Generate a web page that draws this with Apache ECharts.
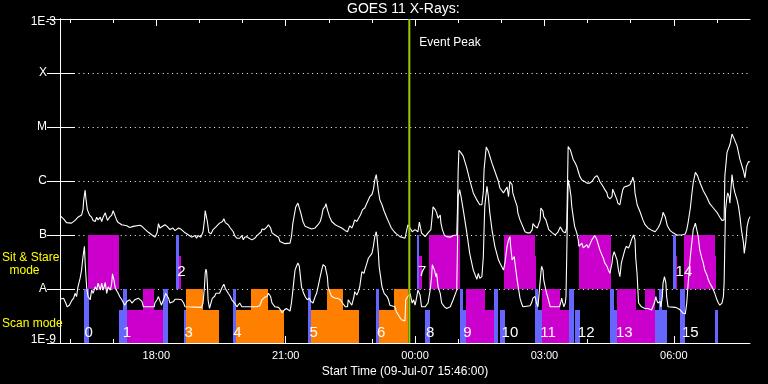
<!DOCTYPE html>
<html><head><meta charset="utf-8">
<script src="https://cdn.jsdelivr.net/npm/echarts@6/dist/echarts.min.js"></script>
<style>html,body{margin:0;padding:0;background:#000;}#c{width:768px;height:384px;}</style>
</head><body><div id="c"></div>
<script>
// ---- time axis: minutes after 09-Jul-07 15:46:00 ----
const START_CLOCK_MIN = 15 * 60 + 46;
const SPAN_MIN = 960;
const hourTickTimes = [14,74,134,194,254,314,374,434,494,554,614,674,734,794,854,914];
const majorTickTimes = [134,314,494,674,854];           // 18:00 21:00 00:00 03:00 06:00
const yTickLabels = ['1E-9','A','B','C','M','X','1E-3']; // decades 1e-9 .. 1e-3
const titleText = 'GOES 11 X-Rays:';
const xAxisTitle = 'Start Time (09-Jul-07 15:46:00)';
const eventTime = 486;
const eventLabel = 'Event Peak';

// ---- GOES curves: [minutes after start, log10 flux (W/m^2)] ----
const longCurve = [[0,-6.64],[5,-6.70],[9,-6.77],[16,-6.78],[21,-6.73],[25,-6.67],[30,-6.63],[32,-6.53],[33,-6.35],[35,-6.17],[36,-6.32],[38,-6.53],[41,-6.63],[44,-6.67],[46,-6.73],[49,-6.75],[51,-6.67],[53,-6.72],[56,-6.67],[58,-6.75],[60,-6.67],[63,-6.59],[64,-6.56],[66,-6.73],[69,-6.67],[72,-6.63],[74,-6.55],[77,-6.66],[79,-6.73],[81,-6.77],[86,-6.81],[93,-6.83],[97,-6.86],[102,-6.84],[111,-6.82],[114,-6.84],[118,-6.89],[123,-6.95],[128,-7.00],[132,-7.04],[135,-6.96],[137,-6.79],[139,-6.87],[141,-6.89],[146,-6.81],[149,-6.84],[153,-6.90],[157,-6.87],[160,-6.92],[165,-6.87],[169,-6.90],[174,-6.96],[179,-7.00],[183,-7.04],[188,-7.01],[190,-7.06],[192,-7.01],[196,-7.04],[199,-6.94],[201,-6.72],[202,-6.55],[204,-6.56],[205,-6.75],[207,-6.95],[210,-6.98],[213,-6.90],[217,-6.85],[219,-6.84],[222,-6.78],[224,-6.79],[226,-6.75],[228,-6.70],[230,-6.77],[232,-6.75],[234,-6.81],[237,-6.87],[239,-6.90],[241,-6.94],[243,-7.01],[246,-7.06],[248,-7.09],[250,-7.06],[253,-7.01],[255,-7.09],[257,-7.04],[260,-7.03],[263,-7.06],[267,-7.09],[271,-7.06],[274,-7.01],[276,-6.98],[280,-6.94],[281,-6.89],[284,-6.90],[288,-6.85],[290,-6.81],[291,-6.79],[293,-6.87],[295,-6.96],[299,-7.00],[304,-7.04],[306,-7.12],[308,-7.15],[313,-7.16],[320,-7.15],[322,-7.03],[324,-6.78],[326,-6.63],[328,-6.48],[331,-6.41],[333,-6.44],[335,-6.59],[338,-6.75],[341,-6.84],[345,-6.86],[350,-6.89],[355,-6.87],[359,-6.81],[362,-6.75],[364,-6.66],[366,-6.52],[369,-6.47],[370,-6.42],[372,-6.53],[375,-6.66],[378,-6.75],[383,-6.81],[387,-6.84],[392,-6.87],[397,-6.92],[400,-6.94],[403,-6.83],[406,-6.87],[408,-6.81],[410,-6.72],[413,-6.75],[415,-6.70],[418,-6.63],[421,-6.53],[424,-6.50],[428,-6.38],[431,-6.29],[434,-6.25],[436,-6.16],[438,-5.98],[440,-5.88],[441,-5.98],[443,-6.19],[445,-6.35],[448,-6.44],[451,-6.56],[455,-6.69],[458,-6.78],[461,-6.87],[465,-6.94],[468,-6.98],[473,-7.03],[480,-7.06],[484,-6.81],[487,-6.87],[490,-6.94],[494,-6.90],[498,-6.94],[500,-6.76],[503,-6.96],[508,-7.03],[512,-6.96],[516,-6.90],[518,-6.63],[519,-6.48],[522,-6.53],[524,-6.59],[526,-6.69],[529,-6.63],[530,-6.78],[532,-6.90],[535,-7.01],[538,-7.03],[543,-7.04],[547,-7.01],[552,-7.00],[553,-6.53],[554,-5.79],[555,-5.43],[558,-5.48],[561,-5.54],[566,-5.76],[570,-5.98],[575,-6.22],[580,-6.35],[584,-6.44],[587,-6.44],[589,-6.19],[590,-5.79],[593,-5.37],[596,-5.45],[601,-5.67],[605,-5.82],[610,-6.01],[612,-6.13],[617,-6.22],[622,-6.11],[624,-6.29],[626,-6.01],[629,-6.07],[630,-6.22],[633,-6.35],[636,-6.47],[637,-6.59],[640,-6.72],[647,-6.94],[650,-6.96],[654,-6.96],[657,-6.90],[658,-6.79],[661,-6.84],[664,-6.87],[665,-6.84],[668,-6.72],[669,-6.50],[672,-6.56],[673,-6.66],[676,-6.72],[678,-6.81],[680,-6.90],[685,-6.96],[689,-7.00],[693,-6.94],[696,-6.85],[698,-6.87],[700,-6.94],[703,-6.96],[705,-6.87],[707,-5.36],[708,-5.35],[710,-5.42],[712,-5.51],[714,-5.60],[717,-5.67],[719,-5.73],[721,-5.82],[723,-5.91],[726,-5.98],[728,-6.01],[730,-6.01],[733,-6.04],[735,-6.05],[737,-6.04],[740,-6.01],[742,-5.98],[744,-5.93],[747,-5.90],[749,-5.94],[751,-6.01],[754,-6.07],[756,-6.11],[758,-6.16],[761,-6.22],[762,-6.29],[765,-6.33],[768,-6.29],[769,-6.15],[771,-6.16],[772,-6.25],[775,-6.35],[776,-6.41],[779,-6.44],[781,-6.29],[783,-6.16],[785,-6.11],[787,-6.13],[790,-6.09],[793,-6.07],[796,-5.98],[797,-5.93],[799,-6.04],[800,-6.22],[803,-6.44],[807,-6.57],[811,-6.72],[814,-6.81],[818,-6.87],[823,-6.91],[828,-6.94],[832,-6.87],[835,-6.79],[838,-6.66],[839,-6.58],[842,-6.66],[845,-6.83],[849,-6.92],[853,-6.96],[858,-7.00],[865,-7.00],[870,-6.98],[872,-6.90],[874,-6.76],[877,-6.50],[879,-6.25],[881,-6.03],[884,-5.84],[887,-5.90],[890,-6.02],[895,-6.18],[900,-6.30],[904,-6.42],[909,-6.50],[914,-6.58],[918,-6.67],[921,-6.73],[924,-6.72],[925,-5.91],[928,-5.47],[930,-5.44],[932,-5.33],[935,-5.13],[938,-5.22],[942,-5.35],[946,-5.60],[951,-5.82],[953,-5.94],[955,-5.73],[958,-5.64],[960,-5.65]];

const shortCurve = [[0,-8.19],[2,-8.22],[5,-8.17],[8,-8.26],[10,-8.33],[13,-8.30],[16,-8.22],[19,-8.17],[21,-8.08],[23,-8.14],[25,-7.96],[28,-7.80],[30,-7.65],[32,-7.40],[34,-7.21],[35,-7.52],[37,-7.96],[39,-8.14],[42,-8.20],[44,-8.02],[46,-8.08],[49,-7.96],[51,-8.02],[53,-7.89],[56,-8.02],[58,-7.89],[60,-8.02],[63,-7.88],[65,-8.08],[67,-7.96],[70,-8.02],[72,-7.89],[73,-7.72],[75,-7.83],[77,-7.99],[79,-8.02],[81,-8.08],[83,-8.14],[86,-8.20],[88,-8.23],[90,-8.30],[93,-8.23],[95,-8.26],[97,-8.20],[100,-8.26],[104,-8.20],[109,-8.17],[114,-8.23],[116,-8.33],[131,-8.33],[132,-8.26],[135,-8.20],[137,-8.14],[139,-8.17],[141,-8.30],[144,-8.20],[147,-8.08],[151,-8.17],[153,-8.26],[158,-8.23],[160,-8.19],[165,-8.19],[169,-8.20],[172,-8.26],[174,-8.33],[197,-8.34],[199,-8.26],[201,-7.96],[202,-7.71],[203,-7.63],[204,-7.68],[205,-7.89],[206,-8.20],[208,-8.36],[210,-8.26],[212,-8.17],[215,-8.14],[217,-8.08],[219,-8.05],[222,-8.08],[224,-8.02],[226,-7.96],[228,-7.91],[230,-7.99],[232,-7.96],[234,-8.08],[237,-8.14],[239,-8.20],[243,-8.26],[246,-8.33],[248,-8.30],[250,-8.26],[253,-8.33],[274,-8.33],[278,-8.31],[281,-8.20],[283,-8.17],[285,-8.15],[288,-8.14],[290,-8.08],[291,-8.05],[293,-8.14],[295,-8.26],[299,-8.33],[304,-8.34],[307,-8.39],[309,-8.44],[312,-8.39],[315,-8.36],[320,-8.41],[322,-8.26],[324,-8.02],[326,-7.77],[327,-7.65],[329,-7.58],[331,-7.52],[333,-7.58],[334,-7.71],[336,-7.96],[339,-8.08],[341,-8.14],[344,-8.20],[347,-8.17],[349,-8.23],[351,-8.20],[352,-8.26],[355,-8.14],[357,-8.08],[359,-7.96],[362,-7.77],[364,-7.65],[366,-7.55],[369,-7.58],[370,-7.65],[372,-7.77],[373,-7.96],[376,-8.08],[378,-8.14],[383,-8.17],[386,-8.17],[390,-8.20],[393,-8.26],[397,-8.33],[400,-8.33],[401,-8.20],[403,-8.17],[406,-8.30],[407,-8.33],[409,-8.14],[410,-8.05],[413,-8.11],[415,-8.05],[417,-7.96],[419,-7.77],[420,-7.68],[423,-7.71],[424,-7.65],[427,-7.52],[429,-7.43],[431,-7.40],[434,-7.34],[436,-7.21],[438,-7.03],[440,-6.94],[441,-7.03],[443,-7.34],[444,-7.58],[446,-7.77],[448,-7.96],[451,-8.08],[455,-8.14],[457,-8.20],[459,-8.30],[461,-8.33],[466,-8.33],[468,-8.42],[472,-8.51],[475,-8.57],[480,-8.59],[481,-8.20],[487,-8.08],[490,-8.26],[492,-8.20],[494,-8.30],[496,-8.17],[498,-8.02],[501,-8.11],[503,-8.33],[508,-8.33],[512,-8.26],[515,-8.02],[517,-7.77],[518,-7.55],[521,-7.65],[523,-7.77],[524,-7.71],[526,-7.96],[529,-8.08],[531,-8.26],[535,-8.33],[538,-8.36],[540,-8.39],[543,-8.33],[547,-8.20],[552,-8.02],[553,-7.21],[554,-6.29],[556,-6.16],[558,-6.29],[561,-6.53],[566,-6.96],[570,-7.34],[575,-7.65],[580,-7.82],[582,-7.71],[584,-7.80],[587,-7.77],[589,-7.40],[590,-6.90],[591,-6.47],[593,-6.22],[594,-6.10],[596,-6.29],[598,-6.59],[601,-6.90],[605,-7.21],[610,-7.46],[612,-7.52],[617,-7.65],[619,-7.52],[622,-7.21],[624,-7.09],[626,-7.03],[627,-7.21],[629,-7.46],[632,-7.40],[633,-7.52],[636,-7.83],[640,-8.17],[642,-8.26],[644,-8.33],[654,-8.31],[656,-8.26],[658,-8.17],[661,-8.14],[663,-8.26],[665,-8.33],[667,-8.02],[669,-7.71],[670,-7.58],[672,-7.65],[673,-7.83],[675,-7.96],[677,-8.08],[679,-8.17],[682,-8.33],[695,-8.33],[697,-8.23],[698,-8.17],[699,-8.23],[701,-8.33],[703,-8.26],[704,-8.14],[705,-7.40],[706,-6.59],[707,-5.98],[709,-6.10],[711,-6.29],[712,-6.47],[714,-6.66],[716,-6.84],[719,-6.96],[721,-7.09],[722,-7.21],[724,-7.18],[726,-7.15],[728,-7.24],[730,-7.21],[733,-7.18],[735,-7.24],[737,-7.18],[740,-7.09],[742,-7.06],[744,-7.01],[746,-7.00],[747,-7.09],[749,-7.18],[751,-7.27],[754,-7.37],[756,-7.43],[758,-7.52],[761,-7.58],[763,-7.65],[765,-7.71],[768,-7.52],[769,-7.40],[771,-7.31],[772,-7.34],[775,-7.46],[777,-7.65],[779,-7.77],[781,-7.52],[784,-7.37],[786,-7.27],[788,-7.21],[791,-7.24],[793,-7.18],[795,-7.09],[798,-7.00],[800,-7.09],[801,-7.42],[803,-7.74],[804,-8.02],[805,-8.26],[809,-8.33],[814,-8.36],[818,-8.36],[823,-8.39],[825,-8.36],[827,-8.26],[829,-8.14],[830,-8.20],[832,-8.26],[835,-8.23],[836,-8.33],[838,-8.14],[839,-7.89],[841,-7.77],[843,-7.89],[844,-8.14],[846,-8.33],[856,-8.34],[860,-8.36],[863,-8.39],[865,-8.42],[867,-8.45],[870,-8.46],[872,-8.26],[874,-7.89],[877,-7.40],[879,-7.15],[881,-6.90],[884,-6.78],[886,-6.81],[888,-7.03],[890,-7.27],[893,-7.43],[895,-7.52],[897,-7.65],[900,-7.74],[902,-7.83],[904,-7.89],[907,-7.96],[909,-8.02],[911,-8.08],[914,-8.20],[916,-8.26],[918,-8.30],[921,-8.26],[923,-8.14],[924,-7.89],[925,-7.15],[926,-6.53],[928,-6.29],[929,-6.22],[931,-6.29],[932,-6.41],[935,-5.88],[936,-5.85],[937,-6.10],[939,-6.22],[942,-6.35],[944,-6.47],[946,-6.66],[948,-6.90],[951,-7.15],[952,-7.34],[954,-7.15],[956,-6.84],[958,-6.72],[960,-6.66]];

// ---- observation timeline blocks ----
const blockStart = [39,33,82,87,93,115,143,162,166,172,175,175,241,245,266,345,349,371,440,444,465,497,500,513,508,557,561,565,591,604,612,618,661,661,665,671,696,708,717,722,765,771,775,802,814,828,833,853,857,868,911,863,911];
const blockEnd   = [82,40,87,93,143,131,150,166,169,175,221,199,245,312,289,349,416,394,444,484,484,500,504,557,515,561,565,591,604,610,619,661,662,665,671,696,708,715,724,767,771,775,802,814,828,845,837,857,858,911,913,870,916];
const blockMode  = ['stare','scan','scan','scan','scan','scan','scan','stare','stare','scan','scan','scan','scan','scan','scan','scan','scan','scan','scan','scan','scan','stare','stare','stare','scan','scan','scan','scan','scan','scan','scan','stare','stare','scan','scan','scan','scan','scan','scan','stare','scan','scan','scan','scan','scan','scan','scan','stare','stare','stare','stare','scan','scan'];
const blockFill  = ['full','full','part','full','part','full','full','full','part','part','part','full','full','part','full','full','part','full','full','part','full','full','part','full','part','full','part','full','part','full','part','full','part','full','part','full','part','full','part','full','full','part','full','part','full','part','full','full','part','full','part','full','part'];
const blockKind  = ['m','b','b','b','m','m','b','b','m','b','o','o','b','o','o','b','o','o','b','o','o','b','m','m','b','b','b','m','m','b','b','m','m','b','b','m','m','b','b','m','b','b','m','m','m','b','b','b','m','m','m','b','b'];

// ---- observation numbers ----
const obsNumbers   = ['0','1','2','3','4','5','6','7','8','9','10','11','12','13','14','15'];
const obsLabelTime = [40,93,169,179,247,353,447,504,515,567,626,679,732,785,868,877];
const obsLabelMode = ['scan','scan','stare','scan','scan','scan','scan','stare','scan','scan','scan','scan','scan','scan','stare','scan'];

// ---------------------------------------------------------------
const FONT = 'Liberation Sans';
const WHITE = '#ffffff';
const bandBase = {scan: 1e-9, stare: 1e-8};
const fillFactor = {full: 10, part: 4};
const kindColor = {m: '#CC00CC', b: '#6666FF', o: '#FF8000'};
const labelLog = {scan: -8.81, stare: -7.68};

function clock(v) {
  const t = START_CLOCK_MIN + Math.round(v);
  const h = Math.floor(t / 60) % 24, m = t % 60;
  return String(h).padStart(2, '0') + ':' + String(m).padStart(2, '0');
}

const blockData = blockStart.map((s, i) => {
  const b = bandBase[blockMode[i]];
  return [s, blockEnd[i], b, b * fillFactor[blockFill[i]], i];
});
const labelData = obsNumbers.map((n, i) => [obsLabelTime[i], Math.pow(10, labelLog[obsLabelMode[i]]), i]);

const chart = echarts.init(document.getElementById('c'), null, {renderer: 'canvas'});

const xBase = {type: 'value', min: 0, max: SPAN_MIN, gridIndex: 0, splitLine: {show: false}};
const tickStyle = {color: WHITE, width: 1};

chart.setOption({
  backgroundColor: '#000000',
  animation: false,
  title: {
    text: titleText, left: 347, top: 2, padding: 0,
    textStyle: {color: WHITE, fontSize: 14, fontWeight: 'normal', fontFamily: FONT}
  },
  grid: {left: 60, right: 18, top: 19, bottom: 41, containLabel: false},
  xAxis: [
    Object.assign({}, xBase, {
      position: 'bottom',
      axisLine: {show: true, lineStyle: {color: WHITE, width: 1}},
      axisTick: {show: true, inside: true, length: 7, customValues: majorTickTimes, lineStyle: tickStyle},
      axisLabel: {show: true, customValues: majorTickTimes, formatter: clock, color: WHITE, fontSize: 11, fontFamily: FONT, margin: 7},
      name: xAxisTitle, nameLocation: 'middle', nameGap: 21,
      nameTextStyle: {color: WHITE, fontSize: 12, fontFamily: FONT}
    }),
    Object.assign({}, xBase, {
      position: 'bottom',
      axisLine: {show: false},
      axisTick: {show: true, inside: true, length: 4, customValues: hourTickTimes, lineStyle: tickStyle},
      axisLabel: {show: false}
    }),
    Object.assign({}, xBase, {
      position: 'top',
      axisLine: {show: true, lineStyle: {color: WHITE, width: 1}},
      axisTick: {show: true, inside: true, length: 7, customValues: majorTickTimes, lineStyle: tickStyle},
      axisLabel: {show: false}
    }),
    Object.assign({}, xBase, {
      position: 'top',
      axisLine: {show: false},
      axisTick: {show: true, inside: true, length: 4, customValues: hourTickTimes, lineStyle: tickStyle},
      axisLabel: {show: false}
    })
  ],
  yAxis: [
    {
      type: 'log', logBase: 10, min: 1e-9, max: 1e-3, interval: 1, position: 'left',
      axisLine: {show: true, lineStyle: {color: WHITE, width: 1}},
      axisTick: {show: true, inside: true, length: 15, lineStyle: tickStyle},
      minorTick: {show: false},
      splitLine: {show: true, lineStyle: {color: WHITE, width: 1, type: [1, 3.67]}},
      axisLabel: {
        show: true, margin: 4, color: WHITE, fontSize: 12, fontFamily: FONT,
        formatter: function (v) {
          const idx = Math.round(Math.log10(v)) + 9;
          const s = yTickLabels[idx];
          if (s === undefined) return '';
          if (idx === 0) return '{lo|' + s + '}';
          if (idx === yTickLabels.length - 1) return '{hi|' + s + '}';
          return '{l|' + s + '}';
        },
        rich: {
          l: {color: WHITE, fontSize: 12, fontFamily: FONT, padding: [0, 9, 0, 0]},
          lo: {color: WHITE, fontSize: 12, fontFamily: FONT, padding: [0, 0, 6, 0]},
          hi: {color: WHITE, fontSize: 12, fontFamily: FONT, padding: [6, 0, 0, 0]}
        }
      }
    },
    {
      type: 'log', logBase: 10, min: 1e-9, max: 1e-3, interval: 1, position: 'right',
      axisLine: {show: true, lineStyle: {color: WHITE, width: 1}},
      axisTick: {show: true, inside: true, length: 13, lineStyle: tickStyle},
      splitLine: {show: false},
      axisLabel: {show: false}
    }
  ],
  graphic: [
    {type: 'text', x: 2, y: 258, z: 100, style: {text: 'Sit & Stare', fill: '#FFFF00', fontSize: 12, fontFamily: FONT, align: 'left', verticalAlign: 'middle'}},
    {type: 'text', x: 24.5, y: 271, z: 100, style: {text: 'mode', fill: '#FFFF00', fontSize: 12, fontFamily: FONT, align: 'center', verticalAlign: 'middle'}},
    {type: 'text', x: 2, y: 323.5, z: 100, style: {text: 'Scan mode', fill: '#FFFF00', fontSize: 12, fontFamily: FONT, align: 'left', verticalAlign: 'middle'}}
  ],
  series: [
    {
      type: 'custom', name: 'timeline', xAxisIndex: 0, yAxisIndex: 0, z: 2,
      encode: {x: [0, 1], y: [2, 3]},
      data: blockData,
      renderItem: function (params, api) {
        const i = api.value(4);
        const p0 = api.coord([api.value(0), api.value(3)]);
        const p1 = api.coord([api.value(1), api.value(2)]);
        const x0 = Math.round(p0[0]), x1 = Math.round(p1[0]);
        const y0 = Math.round(p0[1]), y1 = Math.round(p1[1]);
        return {type: 'rect', shape: {x: x0, y: y0, width: Math.max(1, x1 - x0), height: y1 - y0},
                style: {fill: kindColor[blockKind[i]]}};
      }
    },
    {
      type: 'line', name: 'GOES long', xAxisIndex: 0, yAxisIndex: 0, z: 3,
      data: longCurve.map(d => [d[0], Math.pow(10, d[1])]),
      showSymbol: false, symbol: 'none', lineStyle: {color: WHITE, width: 1.1}
    },
    {
      type: 'line', name: 'GOES short', xAxisIndex: 0, yAxisIndex: 0, z: 3,
      data: shortCurve.map(d => [d[0], Math.pow(10, d[1])]),
      showSymbol: false, symbol: 'none', lineStyle: {color: WHITE, width: 1.1}
    },
    {
      type: 'custom', name: 'numbers', xAxisIndex: 0, yAxisIndex: 0, z: 4,
      encode: {x: 0, y: 1},
      data: labelData,
      renderItem: function (params, api) {
        const p = api.coord([api.value(0), api.value(1)]);
        return {type: 'text', x: p[0], y: p[1],
                style: {text: obsNumbers[api.value(2)], fill: WHITE, fontSize: 15, fontFamily: FONT, align: 'center', verticalAlign: 'middle'}};
      }
    },
    {
      type: 'custom', name: 'event', xAxisIndex: 0, yAxisIndex: 0, z: 5,
      encode: {x: 0},
      data: [[eventTime]],
      renderItem: function (params, api) {
        const t = api.value(0);
        const top = api.coord([t, 1e-3]);
        const bot = api.coord([t, 1e-9]);
        const lab = api.coord([t, Math.pow(10, -3.43)]);
        return {type: 'group', children: [
          {type: 'line', shape: {x1: top[0], y1: top[1], x2: bot[0], y2: bot[1]}, style: {stroke: '#99CC00', lineWidth: 2}},
          {type: 'text', x: lab[0] + 10, y: lab[1], style: {text: eventLabel, fill: WHITE, fontSize: 12, fontFamily: FONT, align: 'left', verticalAlign: 'middle'}}
        ]};
      }
    }
  ]
});
</script>
</body></html>
